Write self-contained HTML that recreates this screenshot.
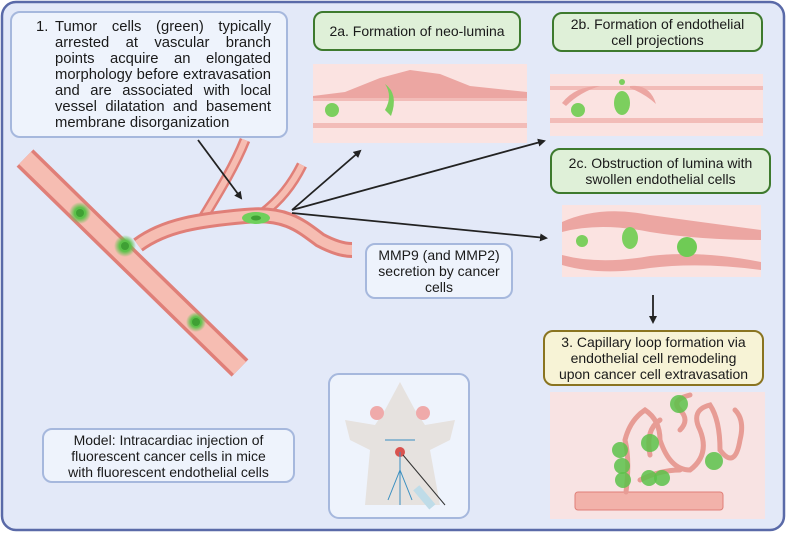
<!DOCTYPE html>
<html><head><meta charset="utf-8"><style>
body{margin:0;width:787px;height:535px;background:#fff;font-family:"Liberation Sans",sans-serif;position:relative;overflow:hidden}
.b{position:absolute;box-sizing:border-box;border-radius:10px;font-size:14px;line-height:16px;color:#1a1a1a;text-align:center;display:flex;align-items:center;justify-content:center}
.bl{background:#eef3fc;border:2px solid #a6b8dd}
.g{background:#dff0d8;border:2px solid #3e7a2e}
.j{text-align:justify;text-align-last:justify;white-space:nowrap}
</style></head><body>
<svg width="787" height="535" style="position:absolute;left:0;top:0">
<defs>
<marker id="a" markerWidth="8" markerHeight="8" refX="6" refY="4" orient="auto" markerUnits="userSpaceOnUse"><path d="M0,0 L8,4 L0,8 z" fill="#222"/></marker>
<radialGradient id="gc"><stop offset="0.5" stop-color="#5cc24a"/><stop offset="1" stop-color="#5cc24a" stop-opacity="0"/></radialGradient>
</defs>
<rect x="2" y="2" width="782" height="528" rx="14" fill="#e3e9f8" stroke="#5a6aa8" stroke-width="2.5"/>
<g fill="none" stroke-linecap="butt">
<path d="M203,218 C220,190 235,165 245,140" stroke="#e07f78" stroke-width="11"/>
<path d="M203,218 C220,190 235,165 245,140" stroke="#f6bdb2" stroke-width="6"/>
<path d="M262,214 C280,200 292,185 302,165" stroke="#e07f78" stroke-width="11"/>
<path d="M262,214 C280,200 292,185 302,165" stroke="#f6bdb2" stroke-width="6"/>
<path d="M25,158 L240,368" stroke="#e07f78" stroke-width="24"/>
<path d="M25,158 L240,368" stroke="#f6bdb2" stroke-width="17"/>
<path d="M138,245 C165,225 200,220 245,216 C285,212 300,225 320,240 C335,248 345,250 352,250" stroke="#e07f78" stroke-width="16"/>
<path d="M138,245 C165,225 200,220 245,216 C285,212 300,225 320,240 C335,248 345,250 352,250" stroke="#f6bdb2" stroke-width="10"/>
</g>
<circle cx="80" cy="213" r="11" fill="url(#gc)"/><circle cx="80" cy="213" r="4" fill="#3fa034"/>
<circle cx="125" cy="246" r="11" fill="url(#gc)"/><circle cx="125" cy="246" r="4" fill="#3fa034"/>
<circle cx="196" cy="322" r="10" fill="url(#gc)"/><circle cx="196" cy="322" r="4" fill="#3fa034"/>
<ellipse cx="256" cy="218" rx="14" ry="6" fill="#6fd05c"/><ellipse cx="256" cy="218" rx="5" ry="2.5" fill="#3fa034"/>
<g stroke="#222" stroke-width="1.8" fill="none" marker-end="url(#a)">
<line x1="198" y1="140" x2="241" y2="198"/>
<line x1="292" y1="210" x2="360" y2="151"/>
<line x1="292" y1="210" x2="544" y2="141"/>
<line x1="292" y1="213" x2="546" y2="238"/>
<line x1="653" y1="295" x2="653" y2="322"/>
</g>
<rect x="313" y="64" width="214" height="79" fill="#fbe3e1"/>
<path d="M313,96 L345,92 L380,78 L410,70 L440,74 L470,86 L527,92 L527,98 L313,100z" fill="#eca6a2"/>
<rect x="313" y="98" width="214" height="3" fill="#f2bcb8"/>
<rect x="313" y="123" width="214" height="5" fill="#f2bcb8"/>
<circle cx="332" cy="110" r="7" fill="#7ccf5e"/><path d="M385,110 q8,-14 0,-26 q14,10 6,32z" fill="#7ccf5e"/>
<rect x="550" y="74" width="213" height="62" fill="#fbe3e1"/>
<rect x="550" y="86" width="213" height="4" fill="#f2bcb8"/>
<rect x="550" y="118" width="213" height="5" fill="#f2bcb8"/>
<path d="M562,103 Q575,86 600,86 Q580,92 566,106z M630,86 Q650,84 656,104 Q645,94 630,88z" fill="#eca6a2"/>
<circle cx="578" cy="110" r="7" fill="#7ccf5e"/><ellipse cx="622" cy="103" rx="8" ry="12" fill="#7ccf5e"/><circle cx="622" cy="82" r="3" fill="#7ccf5e"/>
<rect x="562" y="205" width="199" height="72" fill="#fbe3e1"/>
<path d="M562,222 Q600,205 650,215 Q700,222 761,230 L761,240 Q700,240 650,232 Q600,222 562,232z" fill="#eca6a2"/>
<path d="M562,255 Q600,265 650,256 Q700,250 761,262 L761,270 Q700,262 650,268 Q600,276 562,265z" fill="#eca6a2"/>
<circle cx="582" cy="241" r="6" fill="#7ccf5e"/><ellipse cx="630" cy="238" rx="8" ry="11" fill="#7ccf5e"/><circle cx="687" cy="247" r="10" fill="#6fcb55"/>
<rect x="550" y="392" width="215" height="127" fill="#f8e3e3"/>
<rect x="575" y="492" width="148" height="18" rx="3" fill="#f2b2aa" stroke="#e07f78"/>
<g fill="none" stroke="#e79c95" stroke-width="5" stroke-linecap="round">
<path d="M626,492 Q630,460 625,440 Q630,420 645,410 Q660,420 660,440 Q670,470 690,470 Q710,455 700,430 Q690,410 710,405 Q720,420 720,450 Q735,470 740,440 Q745,420 735,410"/>
<path d="M640,480 Q660,470 680,470 M650,455 Q645,430 660,420 M680,430 Q690,420 680,410 Q670,400 690,395"/>
</g>
<circle cx="679" cy="404" r="9" fill="#5cc24a" opacity=".85"/><circle cx="620" cy="450" r="8" fill="#5cc24a" opacity=".85"/><circle cx="622" cy="466" r="8" fill="#5cc24a" opacity=".85"/><circle cx="623" cy="480" r="8" fill="#5cc24a" opacity=".85"/><circle cx="650" cy="443" r="9" fill="#5cc24a" opacity=".85"/><circle cx="649" cy="478" r="8" fill="#5cc24a" opacity=".85"/><circle cx="662" cy="478" r="8" fill="#5cc24a" opacity=".85"/><circle cx="714" cy="461" r="9" fill="#5cc24a" opacity=".85"/>
<rect x="329" y="374" width="140" height="144" rx="10" fill="#eef3fc" stroke="#a6b8dd" stroke-width="2"/>
<path d="M400,382 L385,410 L375,425 L345,420 L350,440 L370,450 L365,505 L440,505 L430,450 L450,440 L455,420 L425,425 L415,410z" fill="#e6e2df"/>
<circle cx="377" cy="413" r="7" fill="#efaaaa"/><circle cx="423" cy="413" r="7" fill="#efaaaa"/>
<circle cx="400" cy="452" r="5" fill="#d9534f"/>
<path d="M400,452 L400,505 M400,470 L388,500 M400,470 L412,500 M385,440 L415,440" stroke="#3a8fc0" stroke-width="1" fill="none"/>
<line x1="403" y1="455" x2="445" y2="505" stroke="#333" stroke-width="1"/>
<rect x="420" y="485" width="8" height="25" fill="#bfdce8" transform="rotate(-40 424 497)"/>
</svg>
<div class="b bl" style="left:10px;top:11px;width:278px;height:127px;display:block"></div>
<div style="position:absolute;left:36px;top:19px;font-size:14.8px;line-height:16px;color:#1a1a1a">1.</div>
<div style="position:absolute;left:55px;top:19px;width:216px;font-size:14.8px;line-height:16px;color:#1a1a1a">
<div class="j">Tumor cells (green) typically</div>
<div class="j">arrested at vascular branch</div>
<div class="j">points acquire an elongated</div>
<div class="j">morphology before extravasation</div>
<div class="j">and are associated with local</div>
<div class="j">vessel dilatation and basement</div>
<div style="white-space:nowrap">membrane disorganization</div>
</div>
<div class="b g" style="left:313px;top:11px;width:208px;height:40px">2a. Formation of neo-lumina</div>
<div class="b g" style="left:552px;top:12px;width:211px;height:40px">2b. Formation of endothelial<br>cell projections</div>
<div class="b g" style="left:550px;top:148px;width:221px;height:46px">2c. Obstruction of lumina with<br>swollen endothelial cells</div>
<div class="b bl" style="left:365px;top:243px;width:148px;height:56px">MMP9 (and MMP2)<br>secretion by cancer<br>cells</div>
<div class="b" style="left:543px;top:330px;width:221px;height:56px;background:#f7f3d6;border:2px solid #8a7420">3. Capillary loop formation via<br>endothelial cell remodeling<br>upon cancer cell extravasation</div>
<div class="b bl" style="left:42px;top:428px;width:253px;height:55px">Model: Intracardiac injection of<br>fluorescent cancer cells in mice<br>with fluorescent endothelial cells</div>
</body></html>
